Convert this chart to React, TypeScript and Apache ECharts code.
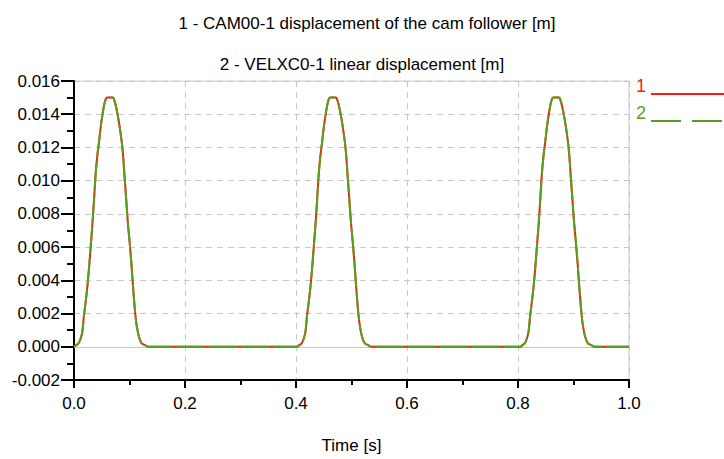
import React, { useEffect, useRef } from "react";
import * as echarts from "echarts";

const titleLines = [
  "1 - CAM00-1 displacement of the cam follower [m]",
  "2 - VELXC0-1 linear displacement [m]",
];
const xAxisName = "Time [s]";
const legendLabels = ["1", "2"];

// Sampled time [s]
const timeS = [
  0.000, 0.004, 0.008, 0.012, 0.015, 0.018, 0.021, 0.024, 0.027, 0.030, 0.033, 0.036, 0.039, 0.042,
  0.045, 0.048, 0.051, 0.054, 0.057, 0.060, 0.070, 0.073, 0.076, 0.079, 0.082, 0.085, 0.088, 0.091,
  0.094, 0.097, 0.100, 0.103, 0.106, 0.109, 0.112, 0.115, 0.118, 0.122, 0.128, 0.134,
  0.402, 0.406, 0.410, 0.414, 0.417, 0.420, 0.423, 0.426, 0.429, 0.432, 0.435, 0.438, 0.441, 0.444,
  0.447, 0.450, 0.453, 0.456, 0.459, 0.462, 0.472, 0.475, 0.478, 0.481, 0.484, 0.487, 0.490, 0.493,
  0.496, 0.499, 0.502, 0.505, 0.508, 0.511, 0.514, 0.517, 0.520, 0.524, 0.530, 0.536,
  0.804, 0.808, 0.812, 0.816, 0.819, 0.822, 0.825, 0.828, 0.831, 0.834, 0.837, 0.840, 0.843, 0.846,
  0.849, 0.852, 0.855, 0.858, 0.861, 0.864, 0.874, 0.877, 0.880, 0.883, 0.886, 0.889, 0.892, 0.895,
  0.898, 0.901, 0.904, 0.907, 0.910, 0.913, 0.916, 0.919, 0.922, 0.926, 0.932, 0.938,
  1.000,
];

// 1 - CAM00-1 displacement of the cam follower [m]
const camDisp = [
  0, 0.0001, 0.0002, 0.0005, 0.0009, 0.0019, 0.0027, 0.0036, 0.0047, 0.0060, 0.0073, 0.0088, 0.0104, 0.0115,
  0.0123, 0.0132, 0.0139, 0.0145, 0.0149, 0.0150, 0.0150, 0.0148, 0.0144, 0.0139, 0.0133, 0.0126, 0.0117, 0.0103,
  0.0089, 0.0075, 0.0064, 0.0052, 0.0038, 0.0025, 0.0015, 0.0009, 0.0005, 0.0002, 0.0001, 0,
  0, 0.0001, 0.0002, 0.0005, 0.0009, 0.0019, 0.0027, 0.0036, 0.0047, 0.0060, 0.0073, 0.0088, 0.0104, 0.0115,
  0.0123, 0.0132, 0.0139, 0.0145, 0.0149, 0.0150, 0.0150, 0.0148, 0.0144, 0.0139, 0.0133, 0.0126, 0.0117, 0.0103,
  0.0089, 0.0075, 0.0064, 0.0052, 0.0038, 0.0025, 0.0015, 0.0009, 0.0005, 0.0002, 0.0001, 0,
  0, 0.0001, 0.0002, 0.0005, 0.0009, 0.0019, 0.0027, 0.0036, 0.0047, 0.0060, 0.0073, 0.0088, 0.0104, 0.0115,
  0.0123, 0.0132, 0.0139, 0.0145, 0.0149, 0.0150, 0.0150, 0.0148, 0.0144, 0.0139, 0.0133, 0.0126, 0.0117, 0.0103,
  0.0089, 0.0075, 0.0064, 0.0052, 0.0038, 0.0025, 0.0015, 0.0009, 0.0005, 0.0002, 0.0001, 0,
  0,
];

// 2 - VELXC0-1 linear displacement [m]
const velxDisp = [
  0, 0.0001, 0.0002, 0.0005, 0.0009, 0.0019, 0.0027, 0.0036, 0.0047, 0.0060, 0.0073, 0.0088, 0.0104, 0.0115,
  0.0123, 0.0132, 0.0139, 0.0145, 0.0149, 0.0150, 0.0150, 0.0148, 0.0144, 0.0139, 0.0133, 0.0126, 0.0117, 0.0103,
  0.0089, 0.0075, 0.0064, 0.0052, 0.0038, 0.0025, 0.0015, 0.0009, 0.0005, 0.0002, 0.0001, 0,
  0, 0.0001, 0.0002, 0.0005, 0.0009, 0.0019, 0.0027, 0.0036, 0.0047, 0.0060, 0.0073, 0.0088, 0.0104, 0.0115,
  0.0123, 0.0132, 0.0139, 0.0145, 0.0149, 0.0150, 0.0150, 0.0148, 0.0144, 0.0139, 0.0133, 0.0126, 0.0117, 0.0103,
  0.0089, 0.0075, 0.0064, 0.0052, 0.0038, 0.0025, 0.0015, 0.0009, 0.0005, 0.0002, 0.0001, 0,
  0, 0.0001, 0.0002, 0.0005, 0.0009, 0.0019, 0.0027, 0.0036, 0.0047, 0.0060, 0.0073, 0.0088, 0.0104, 0.0115,
  0.0123, 0.0132, 0.0139, 0.0145, 0.0149, 0.0150, 0.0150, 0.0148, 0.0144, 0.0139, 0.0133, 0.0126, 0.0117, 0.0103,
  0.0089, 0.0075, 0.0064, 0.0052, 0.0038, 0.0025, 0.0015, 0.0009, 0.0005, 0.0002, 0.0001, 0,
  0,
];

const RED = "#ff1a1a";
const GREEN = "#56a01c";
const FONT = "Liberation Sans";

export default function App() {
  const ref = useRef<HTMLDivElement>(null);
  useEffect(() => {
    if (!ref.current) return;
    const chart = echarts.init(ref.current, null, { renderer: "svg" });
    const s1 = timeS.map((t, i) => [t, camDisp[i]]);
    const s2 = timeS.map((t, i) => [t, velxDisp[i]]);
    chart.setOption({
      animation: false,
      backgroundColor: "#ffffff",
      grid: {
        left: 74,
        right: 95,
        top: 81,
        bottom: 78,
        show: true,
        borderColor: "#c8c8c8",
        borderWidth: 1,
        backgroundColor: "#ffffff",
      },
      title: [
        {
          text: titleLines[0],
          left: 362,
          top: 10,
          textAlign: "center",
          textStyle: { fontFamily: FONT, fontSize: 17, fontWeight: "normal", color: "#000" },
        },
        {
          text: titleLines[1],
          left: 357,
          top: 51,
          textAlign: "center",
          textStyle: { fontFamily: FONT, fontSize: 17, fontWeight: "normal", color: "#000" },
        },
      ],
      xAxis: {
        type: "value",
        min: 0,
        max: 1,
        interval: 0.2,
        name: xAxisName,
        nameLocation: "middle",
        nameGap: 57,
        nameTextStyle: { fontFamily: FONT, fontSize: 17, color: "#000" },
        axisLine: { show: true, onZero: false, lineStyle: { color: "#000", width: 2 } },
        axisTick: { show: true, length: 8, lineStyle: { color: "#000", width: 2 } },
        minorTick: { show: true, splitNumber: 2, length: 5, lineStyle: { color: "#000", width: 2 } },
        axisLabel: {
          fontFamily: FONT,
          fontSize: 17,
          color: "#000",
          margin: 15,
          formatter: (v: number) => v.toFixed(1),
        },
        splitLine: { show: true, lineStyle: { color: "#c8c8c8", type: [6, 5], width: 1 } },
      },
      yAxis: {
        type: "value",
        min: -0.002,
        max: 0.016,
        interval: 0.002,
        axisLine: { show: true, onZero: false, lineStyle: { color: "#000", width: 2 } },
        axisTick: { show: true, length: 13, lineStyle: { color: "#000", width: 2 } },
        minorTick: { show: true, splitNumber: 2, length: 7, lineStyle: { color: "#000", width: 2 } },
        axisLabel: {
          fontFamily: FONT,
          fontSize: 17,
          color: "#000",
          margin: 14,
          formatter: (v: number) => v.toFixed(3),
        },
        splitLine: { show: true, lineStyle: { color: "#c8c8c8", type: [6, 5], width: 1 } },
      },
      series: [
        {
          name: titleLines[0],
          type: "line",
          data: s1,
          showSymbol: false,
          smooth: 0.3,
          lineStyle: { color: RED, width: 2 },
          z: 3,
          markLine: {
            silent: true,
            symbol: "none",
            label: { show: false },
            lineStyle: { color: "#c8c8c8", type: "solid", width: 1 },
            data: [{ yAxis: 0 }],
            z: 1,
          },
        },
        {
          name: titleLines[1],
          type: "line",
          data: s2,
          showSymbol: false,
          smooth: 0.3,
          lineStyle: { color: GREEN, width: 2, type: [28, 4] },
          z: 4,
        },
      ],
      graphic: [
        {
          type: "text",
          left: 636,
          top: 77,
          style: { text: legendLabels[0], fill: RED, font: `18px ${FONT}` },
        },
        {
          type: "line",
          shape: { x1: 651, y1: 94, x2: 724, y2: 94 },
          style: { stroke: RED, lineWidth: 2 },
        },
        {
          type: "text",
          left: 636,
          top: 104,
          style: { text: legendLabels[1], fill: GREEN, font: `18px ${FONT}` },
        },
        {
          type: "line",
          shape: { x1: 651, y1: 121, x2: 724, y2: 121 },
          style: { stroke: GREEN, lineWidth: 2, lineDash: [30, 11] },
        },
      ],
    });
    return () => chart.dispose();
  }, []);
  return <div ref={ref} style={{ width: 724, height: 459, position: "absolute", left: 0, top: 0 }} />;
}
